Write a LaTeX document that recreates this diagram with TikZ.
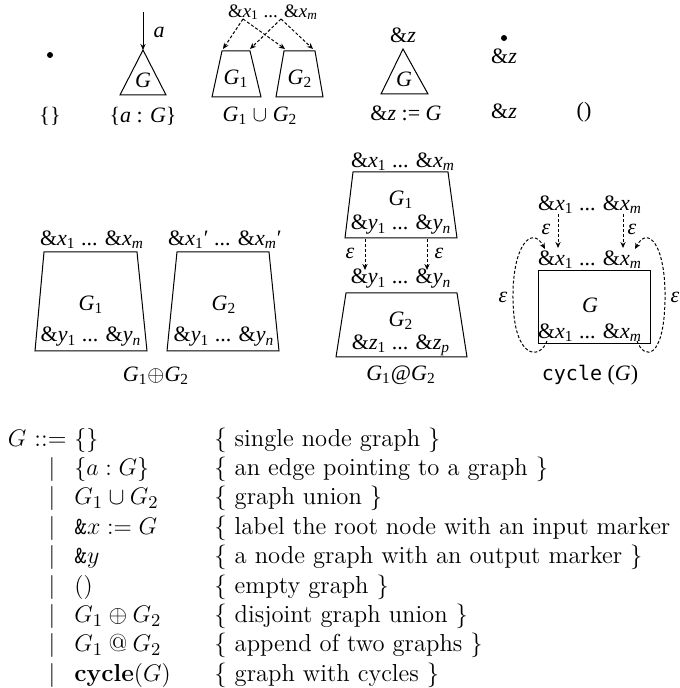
\documentclass[tikz,border=0pt]{standalone}
\usepackage{fontspec}
\newfontfamily\tms{Liberation Serif}
\newfontfamily\dvm{DejaVu Sans Mono}
\usetikzlibrary{arrows.meta,calc}
\newcommand\mk[2]{\&\textit{#1}\textsubscript{#2}}
\newcommand\mki[2]{\&\textit{#1}\textsubscript{\textit{#2}}}
\begin{document}
\begin{tikzpicture}[x=0.5pt,y=-0.5pt,
  lbl/.style={inner sep=0pt, font=\tms\fontsize{11}{13}\selectfont},
  slbl/.style={inner sep=0pt, font=\tms\fontsize{9.5}{11}\selectfont},
  shp/.style={line width=0.5pt},
  dsh/.style={line width=0.5pt, dash pattern=on 1.5pt off 1pt, -{Stealth[length=3pt,width=2.6pt]}},
  sld/.style={line width=0.5pt, -{Stealth[length=3pt,width=2.6pt]}},
  gram/.style={anchor=base west, inner sep=0pt, font=\fontsize{12.3}{14.7}\selectfont},
  grame/.style={anchor=base east, inner sep=0pt, font=\fontsize{12.3}{14.7}\selectfont},
  bar/.style={anchor=base, inner sep=0pt, font=\fontsize{12.3}{14.7}\selectfont}]
\useasboundingbox (0,0) rectangle (679,688);

% ---- row 1 ----
\fill (50,55) circle (3);
\node[lbl] (l1) at (50,116) {\{\}};

\coordinate (aTop) at (143,12);
\coordinate (t1a) at (143,50);
\coordinate (t1b) at (120,95);
\coordinate (t1c) at (166,95);
\draw[sld] (aTop) -- node[lbl, right=5, pos=0.55] (aLbl) {\textit{a}} (t1a);
\draw[shp] (t1a) -- (t1b) -- (t1c) -- cycle;
\node[lbl] (tG1) at (143,80) {\textit{G}};
\node[lbl] (l2) at (143,116) {\{\textit{a} : \textit{G}\}};

% union
\node[slbl] (ux) at (273,12) {\mk{x}{1} ... \mki{x}{m}};
\coordinate (ux1) at (243,19);
\coordinate (uxm) at (281,19);
\coordinate (u1a) at (222,51); \coordinate (u1b) at (250,51);
\coordinate (u1c) at (261,97); \coordinate (u1d) at (212,97);
\coordinate (u2a) at (284,51); \coordinate (u2b) at (315,51);
\coordinate (u2c) at (323,97); \coordinate (u2d) at (276,97);
\draw[shp] (u1a) -- (u1b) -- (u1c) -- (u1d) -- cycle;
\draw[shp] (u2a) -- (u2b) -- (u2c) -- (u2d) -- cycle;
\draw[dsh] (ux1) -- ($(u1a)+(1,-2)$);
\draw[dsh] (ux1) -- ($(u2a)+(1,-2)$);
\draw[dsh] (uxm) -- ($(u1b)+(0,-2)$);
\draw[dsh] (uxm) -- ($(u2b)+(-2,-2)$);
\node[lbl] (uG1) at (236,79) {\textit{G}\textsubscript{1}};
\node[lbl] (uG2) at (300,79) {\textit{G}\textsubscript{2}};
\node[lbl] (l3) at (260,116) {\textit{G}\textsubscript{1} $\cup$ \textit{G}\textsubscript{2}};

% &z := G
\node[lbl] (zl) at (403,35) {\&\textit{z}};
\coordinate (t2a) at (403,49);
\coordinate (t2b) at (381,94);
\coordinate (t2c) at (428,94);
\draw[shp] (t2a) -- (t2b) -- (t2c) -- cycle;
\node[lbl] (tG2) at (404,79) {\textit{G}};
\node[lbl] (l4) at (406,113) {\&\textit{z} := \textit{G}};

\fill (504,38) circle (3);
\node[lbl] (zd) at (504,56) {\&\textit{z}};
\node[lbl] (l5) at (504,111) {\&\textit{z}};
\node[lbl] (l6) at (584,112) {()};

% ---- row 2: disjoint union ----
\node[lbl] (dx1) at (92,240) {\mk{x}{1} ... \mki{x}{m}};
\node[lbl] (dx2) at (225,240) {\mk{x}{1}′ ... \mki{x}{m}′};
\draw[shp] (44,252) -- (137,252) -- (147,351) -- (35,351) -- cycle;
\draw[shp] (177,252) -- (269,252) -- (279,351) -- (167,351) -- cycle;
\node[lbl] (dG1) at (91,305) {\textit{G}\textsubscript{1}};
\node[lbl] (dG2) at (224,305) {\textit{G}\textsubscript{2}};
\node[lbl] (dy1) at (91,337) {\mk{y}{1} ... \mki{y}{n}};
\node[lbl] (dy2) at (224,337) {\mk{y}{1} ... \mki{y}{n}};
\node[lbl] (l7) at (156,376) {\textit{G}\textsubscript{1}$\oplus$\textit{G}\textsubscript{2}};

% ---- append ----
\node[lbl] (ax) at (403,162) {\mk{x}{1} ... \mki{x}{m}};
\draw[shp] (353,172) -- (448,172) -- (457,238) -- (345,238) -- cycle;
\node[lbl] (aG1) at (401,200) {\textit{G}\textsubscript{1}};
\node[lbl] (ay1) at (401,225) {\mk{y}{1} ... \mki{y}{n}};
\coordinate (as1) at (365,239); \coordinate (ae1) at (365,270);
\coordinate (as2) at (427,239); \coordinate (ae2) at (427,270);
\draw[dsh] (as1) -- (ae1);
\draw[dsh] (as2) -- (ae2);
\node[lbl] (ae1l) at (350,253) {\textit{ε}};
\node[lbl] (ae2l) at (439,253) {\textit{ε}};
\node[lbl] (ay2) at (401,279) {\mk{y}{1} ... \mki{y}{n}};
\draw[shp] (346,293) -- (457,293) -- (467,357) -- (336,357) -- cycle;
\node[lbl] (aG2) at (401,321) {\textit{G}\textsubscript{2}};
\node[lbl] (az) at (401,345) {\mk{z}{1} ... \mki{z}{p}};
\node[lbl] (l8) at (401,375) {\textit{G}\textsubscript{1}@\textit{G}\textsubscript{2}};

% ---- cycle ----
\node[lbl] (cx0) at (590,205) {\mk{x}{1} ... \mki{x}{m}};
\coordinate (cs1) at (558,214); \coordinate (ce1) at (558,248);
\coordinate (cs2) at (623,214); \coordinate (ce2) at (623,248);
\draw[dsh] (cs1) -- (ce1);
\draw[dsh] (cs2) -- (ce2);
\node[lbl] (ce1l) at (546,229) {\textit{ε}};
\node[lbl] (ce2l) at (632,229) {\textit{ε}};
\node[lbl] (cx1) at (590,260) {\mk{x}{1} ... \mki{x}{m}};
\draw[shp] (538,271) rectangle (650,344);
\node[lbl] (cG) at (590,305) {\textit{G}};
\node[lbl] (cx2) at (590,333) {\mk{x}{1} ... \mki{x}{m}};
\coordinate (lb) at (547,341); \coordinate (lt) at (545,249);
\coordinate (rb) at (637,341); \coordinate (rt) at (635,249);
\draw[dsh] (lb) .. controls (540,360) and (514,360) .. (513,300)
                .. controls (512,245) and (532,225) .. (lt);
\draw[dsh] (rb) .. controls (644,360) and (664,360) .. (665,300)
                .. controls (666,245) and (648,225) .. (rt);
\node[lbl] (cl) at (503,297) {\textit{ε}};
\node[lbl] (cr) at (675,297) {\textit{ε}};
\node[lbl] (l9) at (590,375) {{\dvm\fontsize{10}{12}\selectfont cycle} (\textit{G})};

% ---- grammar ----
\foreach \i/\lhs/\cm in {
  1/{$\{a:G\}$}/{\{ an edge pointing to a graph \}},
  2/{$G_1\cup G_2$}/{\{ graph union \}},
  3/{\texttt{\&}$x := G$}/{\{ label the root node with an input marker},
  4/{\texttt{\&}$y$}/{\{ a node graph with an output marker \}},
  5/{$()$}/{\{ empty graph \}},
  6/{$G_1\oplus G_2$}/{\{ disjoint graph union \}},
  7/{$G_1\mathbin{\mbox{@}} G_2$}/{\{ append of two graphs \}},
  8/{\textbf{cycle}$(G)$}/{\{ graph with cycles \}}}{
  \node[bar] (b\i) at (52,446+29.4*\i) {$|$};
  \node[gram] (r\i) at (74,446+29.4*\i) {\lhs};
  \node[gram] (c\i) at (214,446+29.4*\i) {\cm};
}
\node[grame] (g0) at (67,446) {$G$ ::=};
\node[gram] (r0) at (74,446) {$\{\}$};
\node[gram] (c0) at (214,446) {\{ single node graph \}};
\end{tikzpicture}
\end{document}
